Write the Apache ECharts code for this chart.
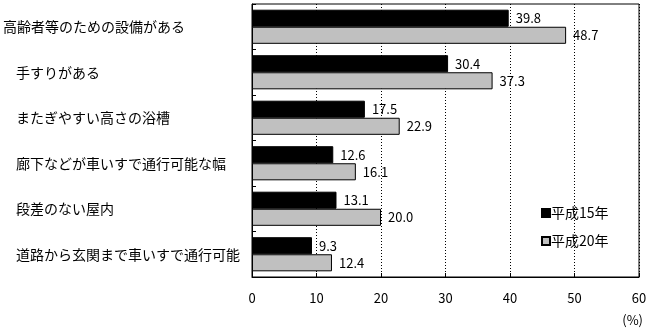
<!DOCTYPE html>
<html>
<head>
<meta charset="utf-8">
<script src="https://cdn.jsdelivr.net/npm/echarts@6/dist/echarts.min.js"></script>
<style>
  html, body { margin: 0; padding: 0; background: #fff; }
  #chart { width: 652px; height: 330px; }
</style>
</head>
<body>
<div id="chart"></div>
<script>
// 住宅のバリアフリー化の状況（平成15年・平成20年）
const categories = [
  '高齢者等のための設備がある',
  '手すりがある',
  'またぎやすい高さの浴槽',
  '廊下などが車いすで通行可能な幅',
  '段差のない屋内',
  '道路から玄関まで車いすで通行可能'
];
const seriesNames = ['平成15年', '平成20年'];
const valuesH15 = [39.8, 30.4, 17.5, 12.6, 13.1, 9.3];
const valuesH20 = [48.7, 37.3, 22.9, 16.1, 20.0, 12.4];
const xTicks = [0, 10, 20, 30, 40, 50, 60];
const unitLabel = '(%)';

const jpFont = '"Noto Sans CJK JP", "Noto Sans", sans-serif';
const numFont = '"Noto Sans CJK JP", "DejaVu Sans", sans-serif';

const chart = echarts.init(document.getElementById('chart'), null, { renderer: 'canvas' });

const valueLabel = {
  show: true,
  position: 'right',
  distance: 7,
  color: '#000',
  fontFamily: numFont,
  fontSize: 13,
  formatter: p => p.value.toFixed(1)
};

chart.setOption({
  animation: false,
  backgroundColor: '#fff',
  title: {
    text: unitLabel,
    right: 4,
    top: 309,
    textStyle: { fontFamily: numFont, fontSize: 13, fontWeight: 'normal', color: '#000' }
  },
  legend: {
    orient: 'vertical',
    left: 536,
    top: 201,
    itemWidth: 8,
    itemHeight: 8,
    itemGap: 14,
    icon: 'rect',
    textStyle: { fontFamily: jpFont, fontSize: 14, color: '#000', padding: [0, 0, 0, -4] },
    data: seriesNames
  },
  grid: {
    left: 251,
    right: 13,
    top: 4,
    bottom: 53,
    show: true,
    borderColor: '#000',
    borderWidth: 1,
    containLabel: false
  },
  xAxis: {
    type: 'value',
    min: xTicks[0],
    max: xTicks[xTicks.length - 1],
    interval: 10,
    axisLine: { show: true, lineStyle: { color: '#000', width: 1 } },
    axisTick: { show: true, inside: true, length: 4, lineStyle: { color: '#000' } },
    axisLabel: {
      color: '#000',
      fontFamily: numFont,
      fontSize: 13,
      margin: 15,
      formatter: v => String(v)
    },
    splitLine: { show: true, lineStyle: { color: '#000', type: [1, 2], width: 1 } }
  },
  yAxis: {
    type: 'category',
    inverse: true,
    data: categories,
    axisLine: { show: true, lineStyle: { color: '#000', width: 1 } },
    axisTick: { show: true, inside: true, length: 4, lineStyle: { color: '#000' } },
    axisLabel: {
      color: '#000',
      fontFamily: jpFont,
      fontSize: 14,
      align: 'left',
      margin: 249,
      formatter: (v, i) => (i === 0 ? '{a|' + v + '}' : '{b|' + v + '}'),
      rich: {
        a: { fontFamily: jpFont, fontSize: 14, color: '#000' },
        b: { fontFamily: jpFont, fontSize: 14, color: '#000', padding: [0, 0, 0, 13] }
      }
    }
  },
  series: [
    {
      name: seriesNames[0],
      type: 'bar',
      data: valuesH15,
      barGap: '0%',
      barCategoryGap: '25%',
      itemStyle: { color: '#000', borderColor: '#000', borderWidth: 1 },
      label: valueLabel
    },
    {
      name: seriesNames[1],
      type: 'bar',
      data: valuesH20,
      barGap: '0%',
      barCategoryGap: '25%',
      itemStyle: { color: '#c0c0c0', borderColor: '#000', borderWidth: 1 },
      label: valueLabel
    }
  ]
});
</script>
</body>
</html>
